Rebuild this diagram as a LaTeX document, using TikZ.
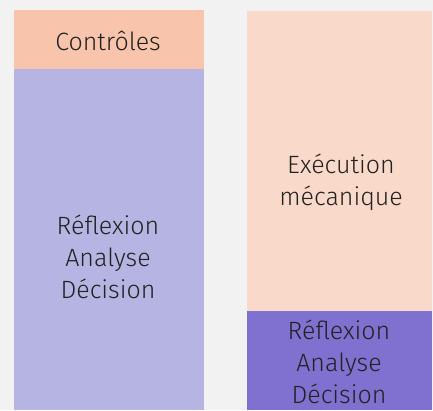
\documentclass[tikz,border=0pt]{standalone}
\usepackage{fontspec}
\setmainfont{Fira Sans}[UprightFont=* Light]
\definecolor{bg}{HTML}{F2F2F2}
\definecolor{peachA}{HTML}{F8C5AC}
\definecolor{peachB}{HTML}{F9D9C9}
\definecolor{lavA}{HTML}{B5B4E3}
\definecolor{purA}{HTML}{8070D0}
\definecolor{ink}{HTML}{222222}
\begin{document}
\begin{tikzpicture}[x=1pt,y=1pt,
  block/.style={inner sep=0pt,outer sep=0pt,anchor=south west},
  lbl/.style={text=ink,align=center,inner sep=0pt,font=\fontsize{25}{32}\selectfont}]
\fill[bg] (0,0) rectangle (433,410);
\useasboundingbox (0,0) rectangle (433,410);
\node[block,fill=peachA,minimum width=190pt,minimum height=59pt] (ctrl) at (14,341) {};
\node[block,fill=lavA,minimum width=190pt,minimum height=341pt] (refl) at (14,0) {};
\node[block,fill=peachB,minimum width=185pt,minimum height=300pt] (exec) at (247,99) {};
\node[block,fill=purA,minimum width=185pt,minimum height=99pt] (refl2) at (247,0) {};
\node[lbl] (tctrl) at (108,369) {Contrôles};
\node[lbl] (trefl) at (108,153) {Réflexion\\Analyse\\Décision};
\node[lbl] (texec) at (341,228) {Exécution\\mécanique};
\node[lbl] (trefl2) at (339,48) {Réflexion\\Analyse\\Décision};
\end{tikzpicture}
\end{document}
